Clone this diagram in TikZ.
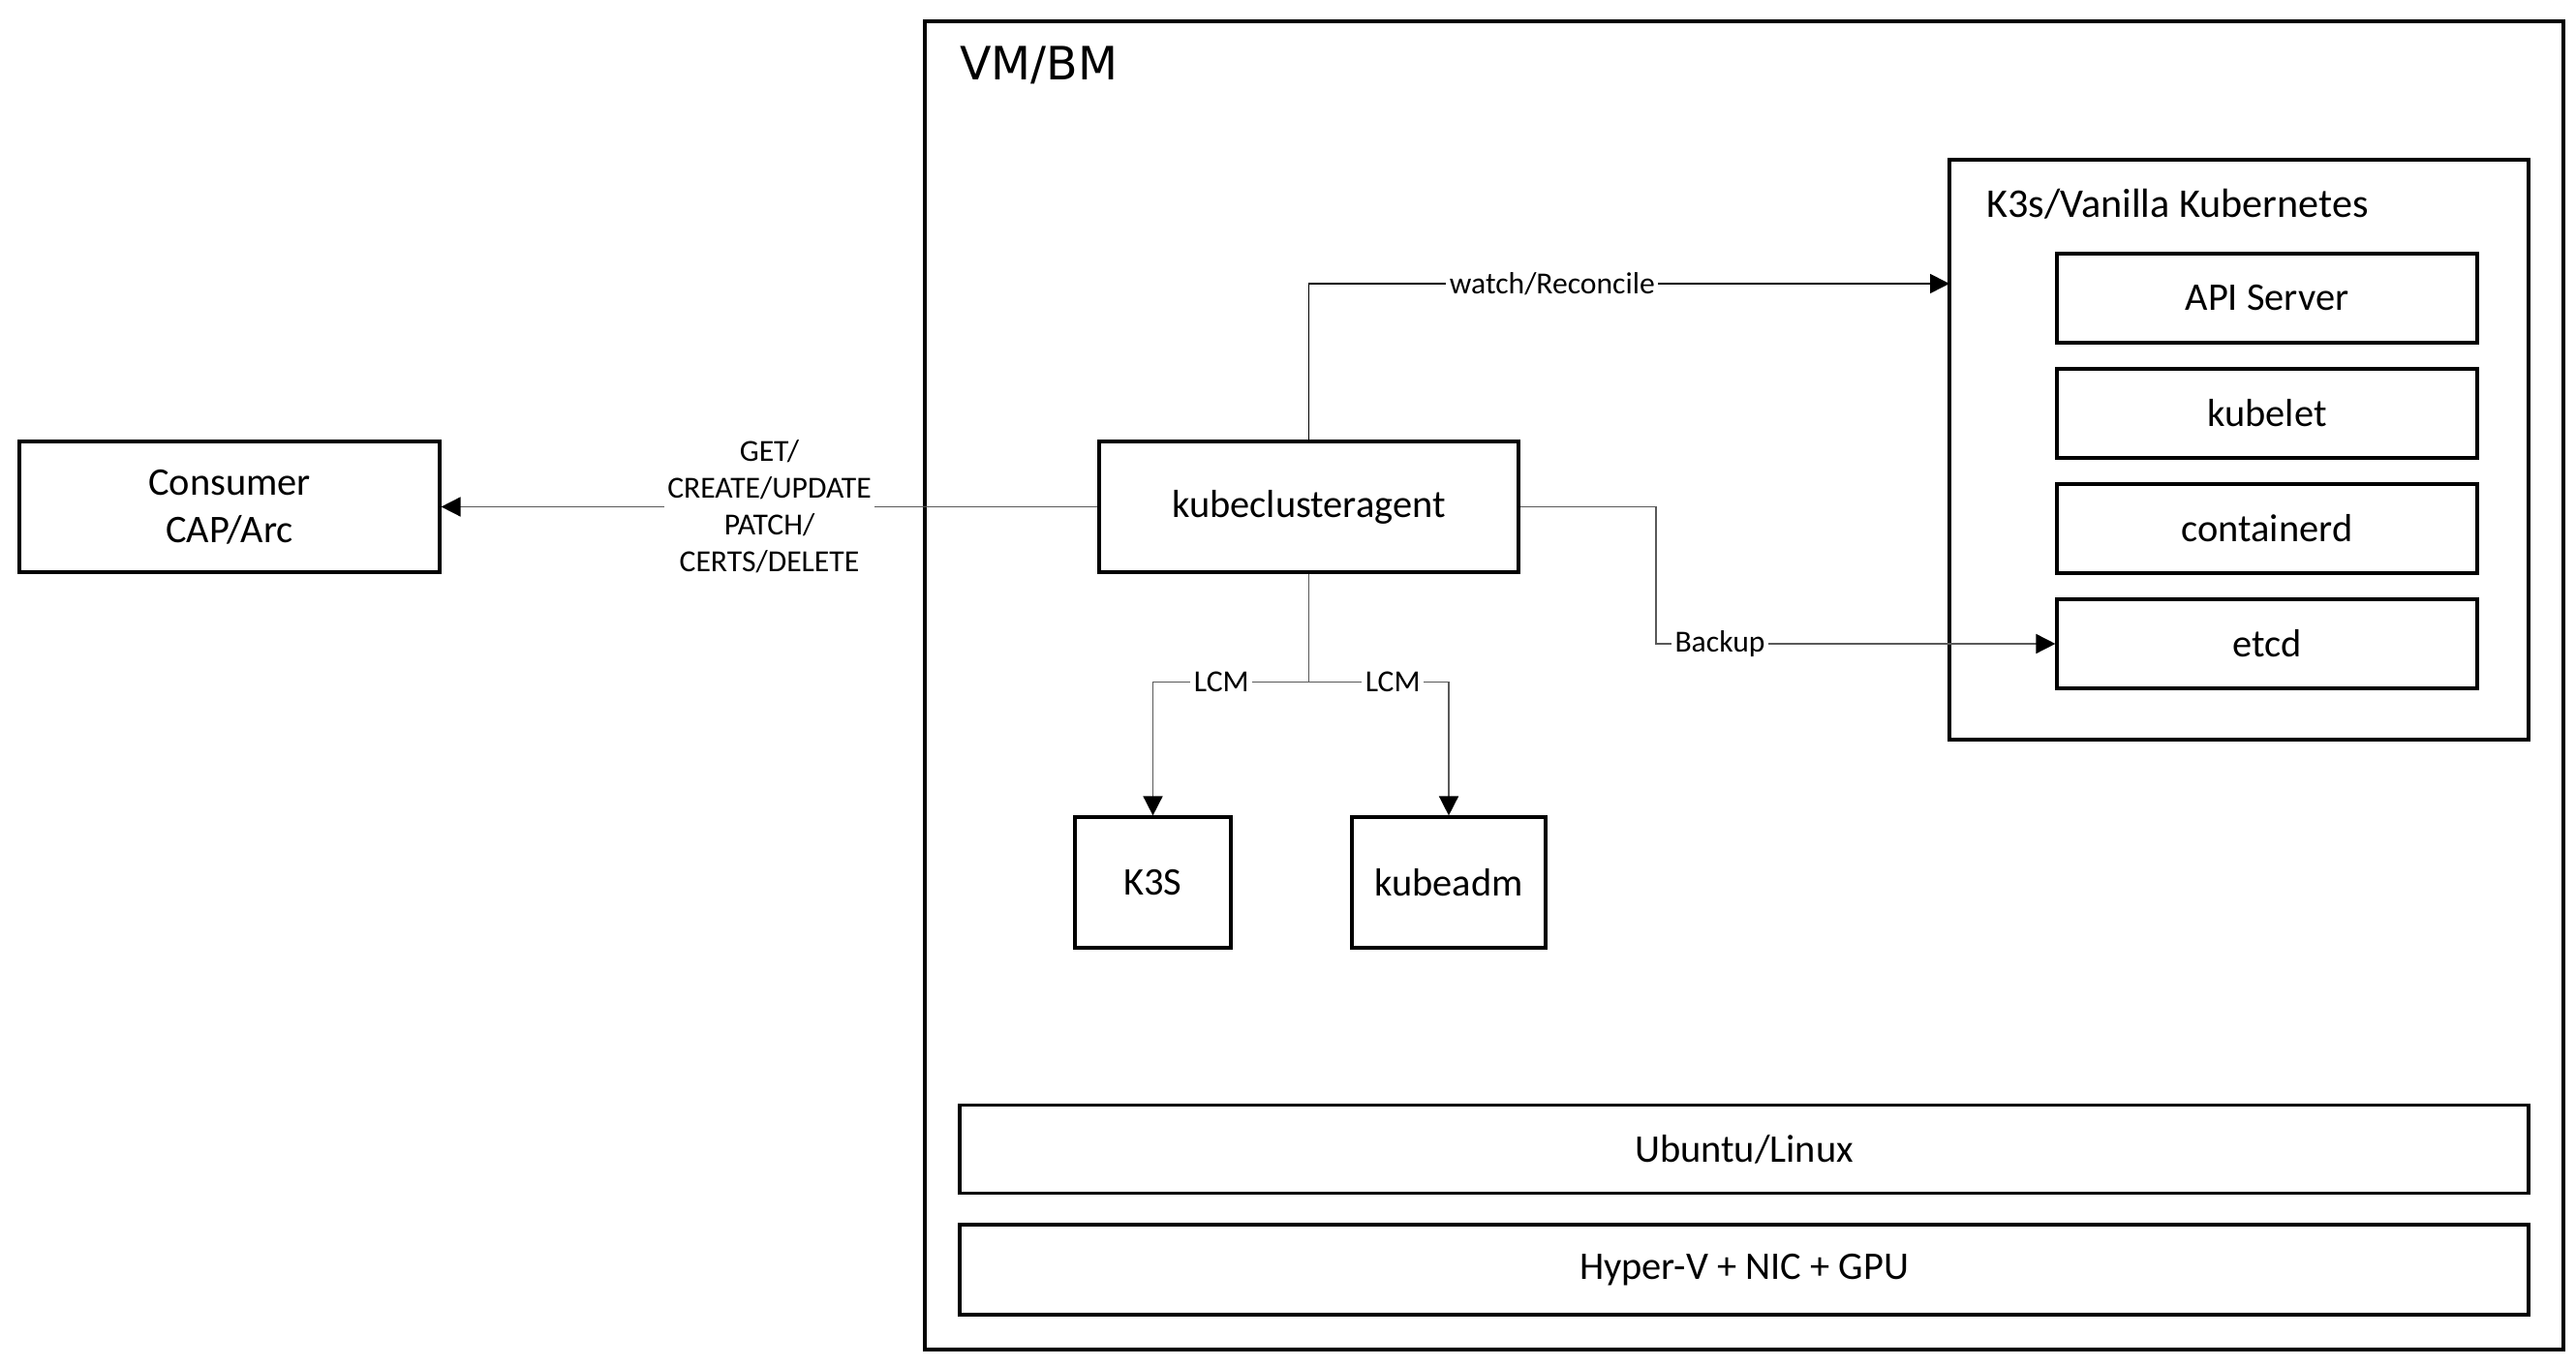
\documentclass[tikz,border=0pt]{standalone}
\usepackage{fontspec}
\setmainfont{Carlito}
\newfontfamily\vmfont{DejaVu Sans}
\usetikzlibrary{arrows.meta,positioning}
\tikzset{
  box/.style={draw, line width=0.9pt, inner sep=0pt, align=center,
    minimum height=1.35cm, font=\fontsize{11.5}{14}\selectfont},
  part/.style={box, minimum width=4.34cm, minimum height=0.92cm},
  layer/.style={box, minimum width=16.2cm, minimum height=0.91cm},
  link/.style={draw=black!65, line width=0.45pt,
    -{Triangle[length=2mm,width=2mm,color=black]}},
  lbl/.style={fill=white, inner sep=1pt, align=center,
    font=\fontsize{9}{10.8}\selectfont}
}
\begin{document}
\begin{tikzpicture}
\useasboundingbox (0,0) rectangle (26.6,14.11);

% host
\node [box, minimum width=16.92cm, minimum height=13.72cm] (vm) at (18.01,7.03) {};
\node [anchor=base west, font=\vmfont\fontsize{13.5}{16}\selectfont] (vmtitle) at (9.79,13.28) {VM/BM};

% cluster
\node [box, minimum width=5.98cm, minimum height=5.99cm] (k8s) at (23.12,9.465) {};
\node [anchor=base west, font=\fontsize{12}{14}\selectfont] (k8stitle) at (20.39,11.86) {K3s/Vanilla Kubernetes};
\node [part] (api) at (23.41,11.03) {API Server};
\node [part] (kubelet) at (23.41,9.84) {kubelet};
\node [part] (containerd) at (23.41,8.65) {containerd};
\node [part] (etcd) at (23.41,7.46) {etcd};

\node [box, minimum width=4.34cm] (consumer) at (2.37,8.875) {Consumer\\CAP/Arc};
\node [box, minimum width=4.33cm] (agent) at (13.515,8.875) {kubeclusteragent};
\node [box, minimum width=1.61cm] (k3s) at (11.905,4.995) {K3S};
\node [box, minimum width=2.0cm] (kubeadm) at (14.96,4.995) {kubeadm};

\node [layer] (ubuntu) at (18.01,2.24) {Ubuntu/Linux};
\node [layer, minimum height=0.93cm] (hyperv) at (18.01,0.995) {Hyper-V + NIC + GPU};

% connectors
\coordinate (watchin) at (20.13,11.18);
\coordinate (bkturn) at (17.10,7.46);
\coordinate [below=1.12cm of agent.south] (lcm);

\draw [link] (agent.west) -- node [lbl] {GET/\\CREATE/UPDATE\\PATCH/\\CERTS/DELETE} (consumer.east);
\draw [link, draw=black] (agent.north) |- node [lbl, pos=0.69] {watch/Reconcile} (watchin);
\draw [link] (agent.east) -| (bkturn) -- node [lbl, pos=0.16] {Backup} (etcd.west);
\draw [draw=black!65, line width=0.45pt] (agent.south) -- (lcm);
\draw [link] (lcm) -| node [lbl, pos=0.28] {LCM} (k3s.north);
\draw [link] (lcm) -| node [lbl, pos=0.30] {LCM} (kubeadm.north);
\end{tikzpicture}
\end{document}
